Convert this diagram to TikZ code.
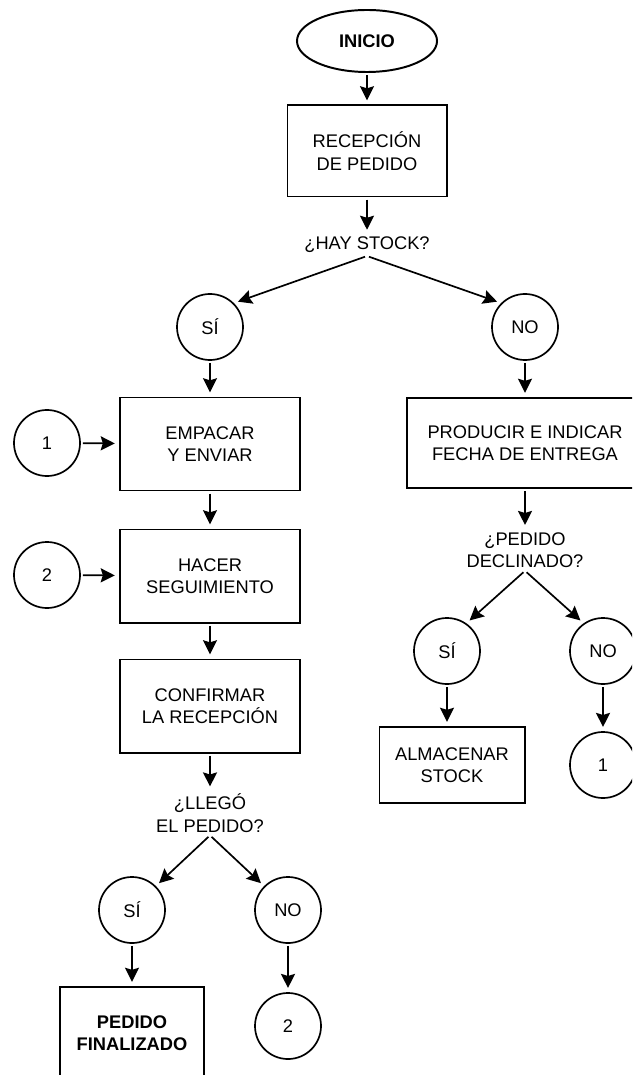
\documentclass[tikz,border=0pt]{standalone}
\usepackage{fontspec}
\setmainfont{Liberation Sans}
\usetikzlibrary{arrows.meta,shapes.geometric}

\begin{document}
\begin{tikzpicture}[x=0.025cm, y=-0.025cm, >={Stealth[length=10pt,width=10pt,inset=1.5pt]},
    every node/.style={font=\fontsize{13}{16}\selectfont, align=center},
    box/.style={draw, line width=1.4pt, inner sep=2pt},
    circ/.style={draw, circle, line width=1.2pt, minimum size=1.65cm, inner sep=0pt},
    ask/.style={inner sep=2pt},
    conn/.style={->, line width=1.2pt, shorten <=1.5pt, shorten >=3pt}]
    % Frame
    \useasboundingbox (0,0) rectangle (632,1075);
    \clip (0,0) rectangle (632,1075);

    % Main path
    \node[draw, ellipse, line width=1.4pt, minimum width=3.5cm, minimum height=1.55cm, inner sep=0pt] (inicio) at (367,41) {\textbf{INICIO}};
    \node[box, minimum width=3.975cm, minimum height=2.275cm] (recepcion) at (367,151) {RECEPCIÓN\\DE PEDIDO};
    \node[ask] (stock) at (367,245) {¿HAY STOCK?};

    % Left branch (SI)
    \node[circ] (si) at (210,327) {SÍ};
    \node[box, minimum width=4.5cm, minimum height=2.325cm] (empacar) at (210,444) {EMPACAR\\Y ENVIAR};
    \node[box, minimum width=4.5cm, minimum height=2.325cm] (hacer) at (210,576) {HACER\\SEGUIMIENTO};
    \node[box, minimum width=4.5cm, minimum height=2.325cm] (confirmar) at (210,706) {CONFIRMAR\\LA RECEPCIÓN};
    \node[circ] (uno) at (47,443) {1};
    \node[circ] (dos) at (47,575) {2};
    \node[ask] (llego) at (210,813) {¿LLEGÓ\\EL PEDIDO?};
    \node[circ] (siLlego) at (132,910) {SÍ};
    \node[circ] (noLlego) at (288,910) {NO};
    \node[box, minimum width=3.575cm, minimum height=2.3cm] (final) at (132,1033) {\textbf{PEDIDO}\\\textbf{FINALIZADO}};
    \node[circ] (dosB) at (288,1026) {2};

    % Right branch (NO)
    \node[circ] (no) at (525,327) {NO};
    \node[box, minimum width=5.9cm, minimum height=2.25cm] (producir) at (525,443) {PRODUCIR E INDICAR\\FECHA DE ENTREGA};
    \node[ask] (declinado) at (525,550) {¿PEDIDO\\DECLINADO?};
    \node[circ] (siDecl) at (447,651) {SÍ};
    \node[circ] (noDecl) at (603,651) {NO};
    \node[box, minimum width=3.625cm, minimum height=1.9cm] (almacenar) at (452,765) {ALMACENAR\\STOCK};
    \node[circ] (unoB) at (603,765) {1};

    % Arrows
    \draw[conn] (inicio) -- (recepcion);
    \draw[conn] (recepcion) -- (stock);
    \draw[conn] (stock.south) -- (si.north east);
    \draw[conn] (stock.south) -- (no.north west);
    \draw[conn] (si) -- (empacar);
    \draw[conn] (empacar) -- (hacer);
    \draw[conn] (hacer) -- (confirmar);
    \draw[conn] (confirmar) -- (llego);
    \draw[conn] (uno) -- (empacar);
    \draw[conn] (dos) -- (hacer);
    \draw[conn] (llego.south) -- (siLlego.north east);
    \draw[conn] (llego.south) -- (noLlego.north west);
    \draw[conn] (siLlego) -- (final);
    \draw[conn] (noLlego) -- (dosB);
    \draw[conn] (no) -- (producir);
    \draw[conn] (producir) -- (declinado);
    \draw[conn] (declinado.south) -- (siDecl.55);
    \draw[conn] (declinado.south) -- (noDecl.125);
    \draw[conn] (siDecl) -- (siDecl |- almacenar.north);
    \draw[conn] (noDecl) -- (unoB);
\end{tikzpicture}
\end{document}
